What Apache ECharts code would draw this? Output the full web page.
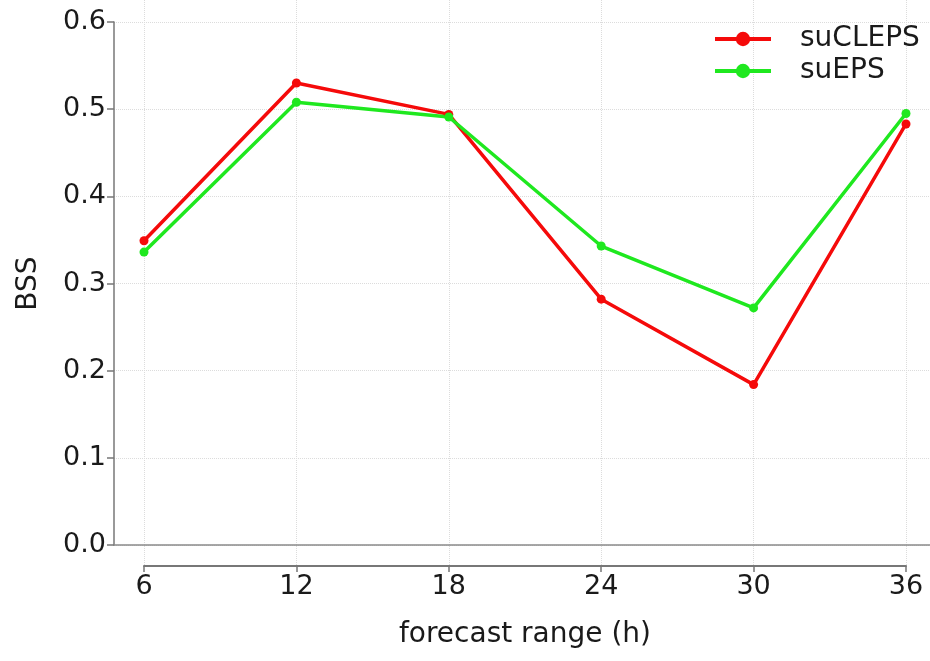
<!DOCTYPE html>
<html>
<head>
<meta charset="utf-8">
<script src="https://cdn.jsdelivr.net/npm/echarts@6/dist/echarts.min.js"></script>
<style>html,body{margin:0;padding:0;background:#fff}#c{width:930px;height:661px}</style>
</head>
<body>
<div id="c"></div>
<script>
const forecastHours = [6, 12, 18, 24, 30, 36];
const suCLEPS = [0.349, 0.530, 0.494, 0.282, 0.184, 0.483];
const suEPS = [0.336, 0.508, 0.491, 0.343, 0.272, 0.495];
const seriesNames = ['suCLEPS', 'suEPS'];

const chart = echarts.init(document.getElementById('c'));
const font = 'DejaVu Sans';
const txt = '#1a1a1a';
function pairs(vals){ return forecastHours.map((h,i)=>[h, vals[i]]); }

chart.setOption({
  animation: false,
  backgroundColor: '#fff',
  grid: [
    {left: 114, right: 0, top: 22, bottom: 116},
    {left: 144, width: 762, top: 0, bottom: 95}
  ],
  legend: {
    orient: 'vertical',
    left: 708, top: 20,
    itemWidth: 56, itemHeight: 18, itemGap: 4,
    data: seriesNames,
    lineStyle: {width: 4},
    textStyle: {fontFamily: font, fontSize: 28, color: txt, padding: [0,0,0,24]}
  },
  xAxis: [
    {
      type: 'value', gridIndex: 0, min: 4.819, max: 36.945,
      axisLine: {show: true, lineStyle: {color: '#8a8a8a', width: 1.5}},
      axisTick: {show: false}, axisLabel: {show: false}, splitLine: {show: false}
    },
    {
      type: 'value', gridIndex: 1, min: 6, max: 36, interval: 6,
      axisLine: {show: true, lineStyle: {color: '#777', width: 2}},
      axisTick: {show: true, length: 6, lineStyle: {color: '#777', width: 1.5}},
      axisLabel: {fontFamily: font, fontSize: 27, color: txt, margin: 7},
      splitLine: {show: true, lineStyle: {color: '#dcdcdc', type: 'dotted', width: 1}},
      name: 'forecast range (h)', nameLocation: 'middle', nameGap: 55,
      nameTextStyle: {fontFamily: font, fontSize: 28, color: txt}
    }
  ],
  yAxis: [
    {
      type: 'value', gridIndex: 0, min: 0, max: 0.6, interval: 0.1,
      axisLine: {show: true, lineStyle: {color: '#777', width: 1.5}},
      axisTick: {show: true, length: 7, lineStyle: {color: '#777', width: 1.5}},
      axisLabel: {fontFamily: font, fontSize: 27, color: txt, margin: 8, formatter: v => v.toFixed(1)},
      splitLine: {show: true, lineStyle: {color: '#dcdcdc', type: 'dotted', width: 1}},
      name: 'BSS', nameLocation: 'middle', nameGap: 71, nameRotate: 90,
      nameTextStyle: {fontFamily: font, fontSize: 28, color: txt}
    },
    {type: 'value', gridIndex: 1, show: false, min: 0, max: 1}
  ],
  series: [
    {
      name: seriesNames[0], type: 'line', xAxisIndex: 0, yAxisIndex: 0,
      data: pairs(suCLEPS), symbol: 'circle', symbolSize: 9,
      itemStyle: {color: '#f50a0a'}, lineStyle: {color: '#f50a0a', width: 3.5}
    },
    {
      name: seriesNames[1], type: 'line', xAxisIndex: 0, yAxisIndex: 0,
      data: pairs(suEPS), symbol: 'circle', symbolSize: 9,
      itemStyle: {color: '#1fe81f'}, lineStyle: {color: '#1fe81f', width: 3.5}
    }
  ]
});
</script>
</body>
</html>
